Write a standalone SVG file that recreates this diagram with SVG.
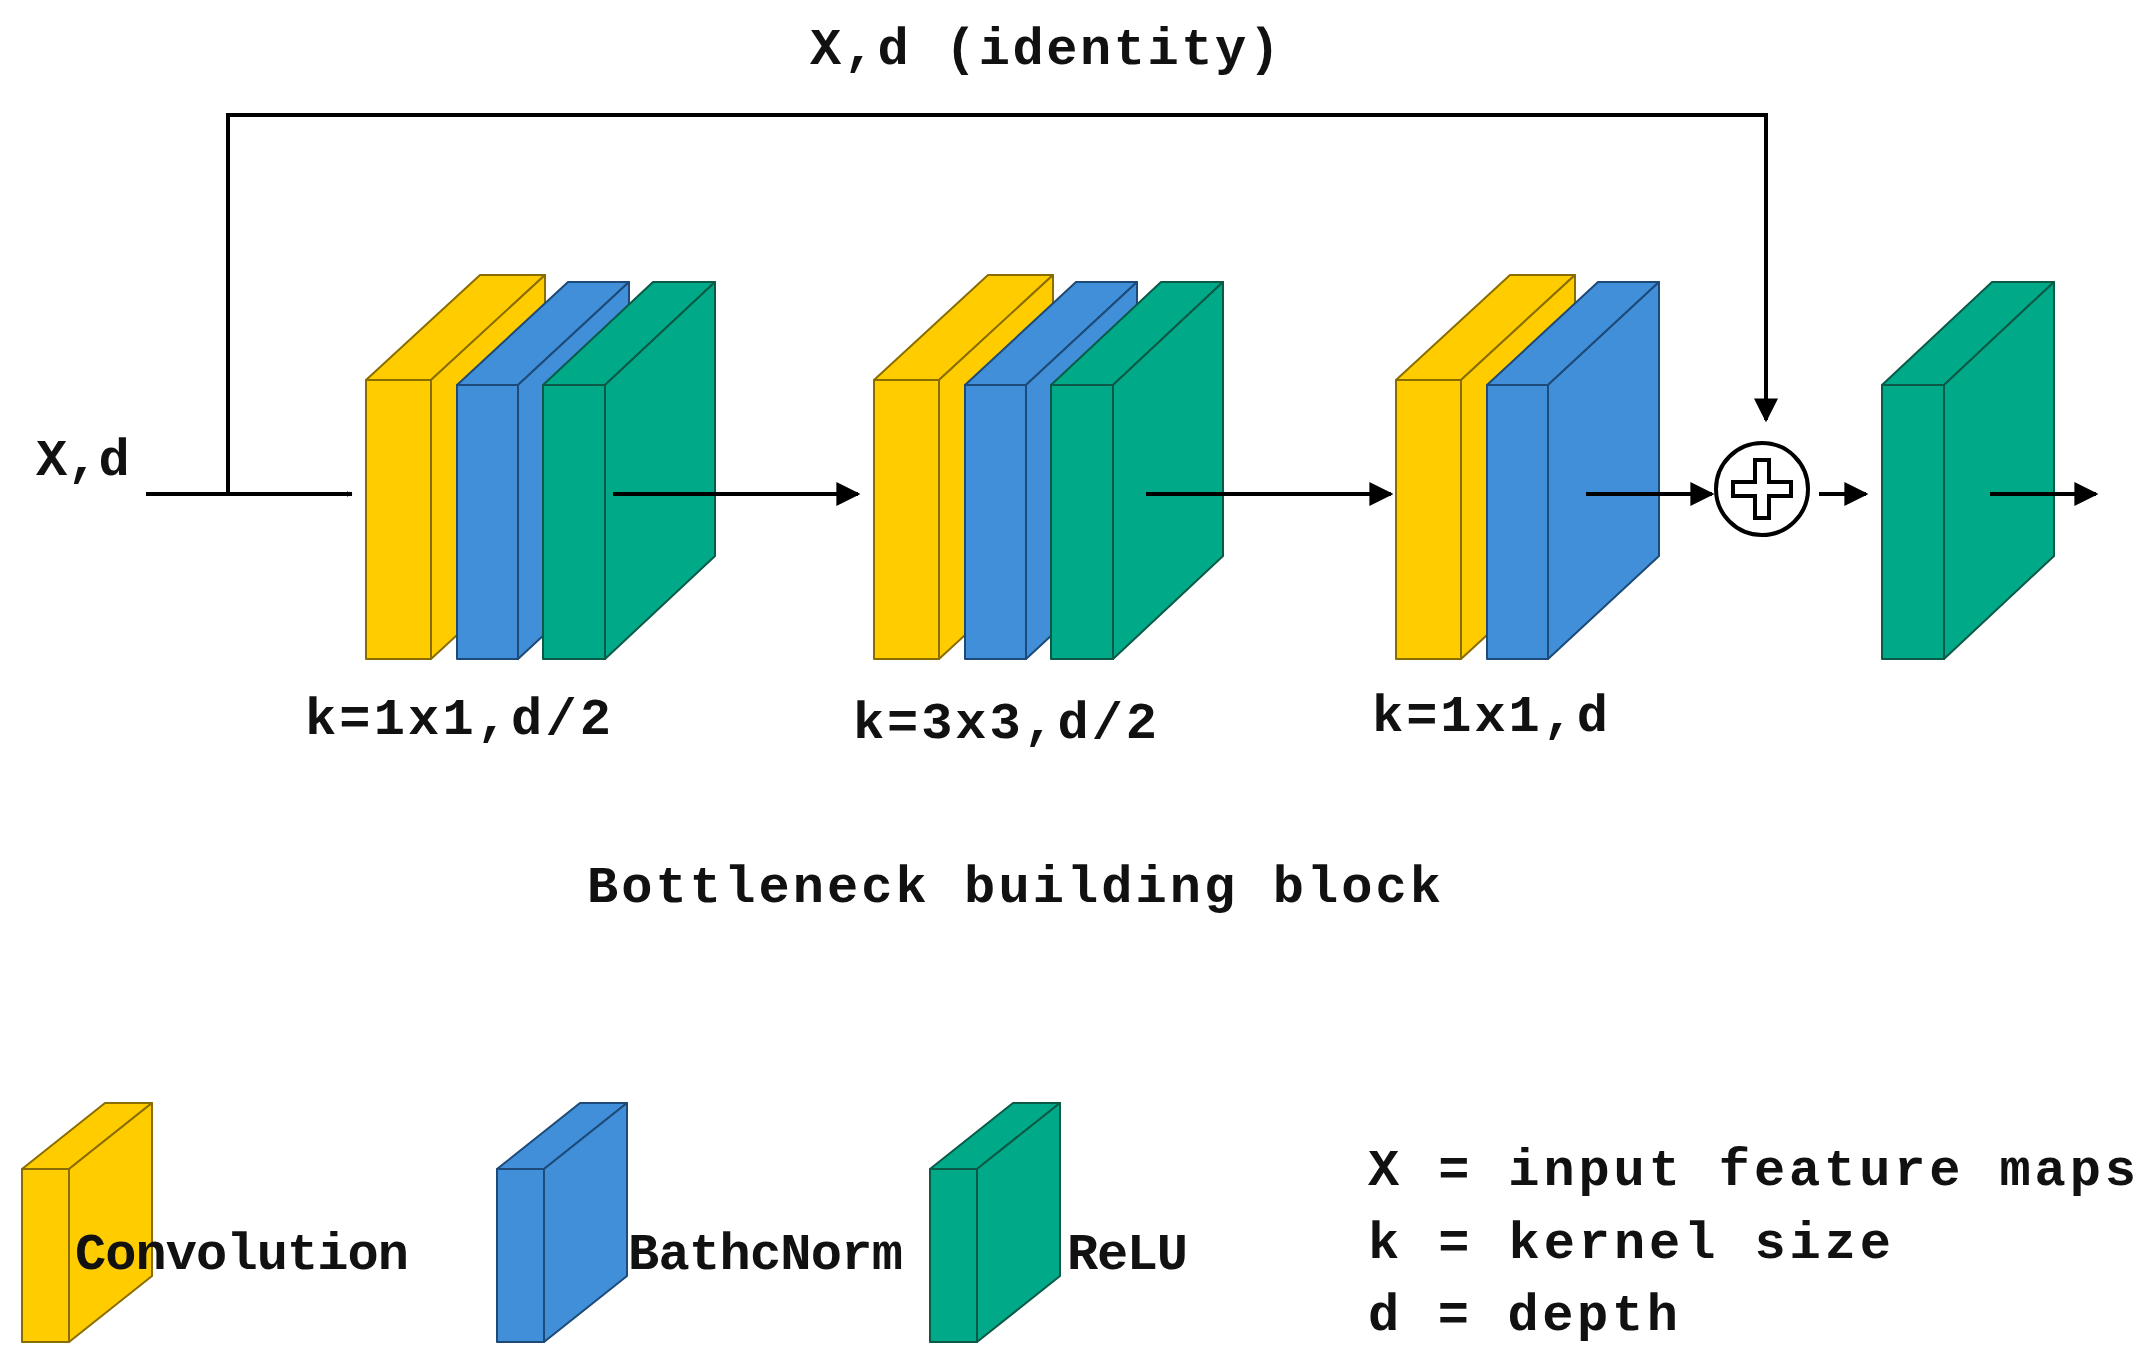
<svg xmlns="http://www.w3.org/2000/svg" xmlns:xlink="http://www.w3.org/1999/xlink" width="2151" height="1367" viewBox="0 0 2151 1367">
<style>
.t{font-family:"Liberation Mono","Courier New",monospace;font-weight:bold;fill:#111;font-size:52px}
.y{fill:#FFCC00;stroke:#8a6d00;stroke-width:2;stroke-linejoin:round}
.b{fill:#418FD8;stroke:#1d4a78;stroke-width:2;stroke-linejoin:round}
.g{fill:#00AA88;stroke:#0b5a48;stroke-width:2;stroke-linejoin:round}
.c{fill:none;stroke:#000;stroke-width:4}
</style>
<defs>
<marker id="ah" viewBox="0 0 10 10" refX="9" refY="5" markerWidth="6" markerHeight="6" markerUnits="userSpaceOnUse" orient="auto">
<path d="M0,0 L10,5 L0,10 Z" fill="#000"/>
</marker>
<marker id="a" viewBox="0 0 10 10" refX="9" refY="5" markerWidth="6" markerHeight="6" orient="auto"><path d="M0,0 L10,5 L0,10 Z" fill="#000"/></marker>
<g id="sy" class="y"><rect x="0" y="0" width="65" height="279"/><path d="M0,0 L114,-105 L179,-105 L65,0Z"/><path d="M65,0 L179,-105 L179,174 L65,279Z"/></g>
<g id="sb" class="b"><rect x="0" y="0" width="61" height="274"/><path d="M0,0 L111,-103 L172,-103 L61,0Z"/><path d="M61,0 L172,-103 L172,171 L61,274Z"/></g>
<g id="sg" class="g"><rect x="0" y="0" width="62" height="274"/><path d="M0,0 L110,-103 L172,-103 L62,0Z"/><path d="M62,0 L172,-103 L172,171 L62,274Z"/></g>
<g id="ls"><rect x="0" y="0" width="47" height="173"/><path d="M0,0 L83,-66 L130,-66 L47,0Z"/><path d="M47,0 L130,-66 L130,107 L47,173Z"/></g>
</defs>
<rect width="2151" height="1367" fill="#fff"/>
<text class="t" x="1045" y="64" text-anchor="middle" textLength="470" font-size="50">X,d (identity)</text>
<text class="t" x="36" y="475" font-size="50">X,d</text>
<g id="block1">
<use xlink:href="#sy" x="366" y="380"/><use xlink:href="#sb" x="457" y="385"/><use xlink:href="#sg" x="543" y="385"/>
</g>
<g id="block2">
<use xlink:href="#sy" x="874" y="380"/><use xlink:href="#sb" x="965" y="385"/><use xlink:href="#sg" x="1051" y="385"/>
</g>
<g id="block3">
<use xlink:href="#sy" x="1396" y="380"/><use xlink:href="#sb" x="1487" y="385"/>
</g>
<g id="add">
<circle cx="1762" cy="489" r="46" fill="#fff" stroke="#000" stroke-width="4"/>
<path d="M1755,460 h14 v22 h22 v14 h-22 v22 h-14 v-22 h-22 v-14 h22 Z" fill="#fff" stroke="#000" stroke-width="4"/>
</g>
<g id="relu">
<use xlink:href="#sg" x="1882" y="385"/>
</g>
<g id="connectors">
<path class="c" d="M146,494 H352" marker-end="url(#ah)" style="stroke-width:4"/>
<path class="c" d="M228,494 V115 H1766 V420" marker-end="url(#a)"/>
<path class="c" d="M613,494 H858" marker-end="url(#a)"/>
<path class="c" d="M1146,494 H1391" marker-end="url(#a)"/>
<path class="c" d="M1586,494 H1712" marker-end="url(#a)"/>
<path class="c" d="M1819,494 H1866" marker-end="url(#a)"/>
<path class="c" d="M1990,494 H2096" stroke-width="3" marker-end="url(#a)"/>
</g>
<text class="t" x="305" y="734" textLength="306">k=1x1,d/2</text>
<text class="t" x="853" y="738" textLength="304">k=3x3,d/2</text>
<text class="t" x="1372" y="731" textLength="236">k=1x1,d</text>
<text class="t" x="587" y="902" textLength="854">Bottleneck building block</text>
<g id="legend-conv"><use xlink:href="#ls" class="y" x="22" y="1169"/><text class="t" x="75" y="1269" textLength="334">Convolution</text></g>
<g id="legend-bn"><use xlink:href="#ls" class="b" x="497" y="1169"/><text class="t" x="628" y="1269" textLength="275">BathcNorm</text></g>
<g id="legend-relu"><use xlink:href="#ls" class="g" x="930" y="1169"/><text class="t" x="1067" y="1269" textLength="121">ReLU</text></g>
<text class="t" x="1368" y="1185" textLength="768">X = input feature maps</text>
<text class="t" x="1368" y="1258" textLength="523">k = kernel size</text>
<text class="t" x="1368" y="1330" textLength="310">d = depth</text>
</svg>
